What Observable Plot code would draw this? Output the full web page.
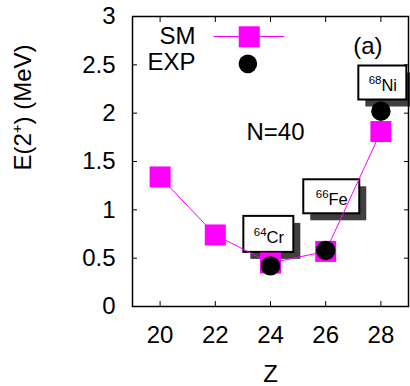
<!DOCTYPE html>
<html><head><meta charset="utf-8">
<script src="https://cdn.jsdelivr.net/npm/d3@7"></script>
<script src="https://cdn.jsdelivr.net/npm/@observablehq/plot@0.6"></script>
<style>html,body{margin:0;padding:0;background:#fff}svg{display:block}</style>
</head><body><div id="chart"></div>
<script>
// ---- data ----
const smZ = [20, 22, 24, 26, 28];
const smE = [1.34, 0.74, 0.45, 0.57, 1.81];
const expZ = [24, 26, 28];
const expE = [0.42, 0.58, 2.02];
const xTicks = [20, 22, 24, 26, 28];
const yTicks = [0, 0.5, 1, 1.5, 2, 2.5, 3];
const nuclideMass = ["64", "66", "68"];
const nuclideSym = ["Cr", "Fe", "Ni"];
const labelZ = [23.94, 26.22, 28.07];
const labelE = [0.746, 1.135, 2.312];
const seriesNames = ["SM", "EXP"];

// ---- layout ----
const W = 410, H = 386, ml = 132, mr = 2, mt = 16, mb = 80;
const xDom = [19, 29], yDom = [0, 3];
const kx = (W - ml - mr) / (xDom[1] - xDom[0]);
const ky = (H - mt - mb) / (yDom[1] - yDom[0]);
const boxW = [50, 56, 48], boxH = [36, 34, 34];
const font = "'Liberation Sans', Arial, Helvetica, sans-serif";
const MAG = "#ff00ff";

const sm = smZ.map((z, i) => ({Z: z, E: smE[i]}));
const exp = expZ.map((z, i) => ({Z: z, E: expE[i]}));
const labels = nuclideSym.map((s, i) => ({
  text: `^{${nuclideMass[i]}}${s}`, Z: labelZ[i], E: labelE[i],
  hw: boxW[i] / 2 / kx, hh: boxH[i] / 2 / ky
}));
const legLine = [{Z: 21.95, E: 2.793}, {Z: 24.48, E: 2.793}];
const legText = [{t: seriesNames[0], Z: 21.28, E: 2.795}, {t: seriesNames[1], Z: 21.28, E: 2.527}];

const boxRect = {x1: d => d.Z - d.hw, x2: d => d.Z + d.hw, y1: d => d.E - d.hh, y2: d => d.E + d.hh};

const plot = Plot.plot({
  width: W, height: H,
  marginLeft: ml, marginRight: mr, marginTop: mt, marginBottom: mb,
  style: {fontFamily: font, background: "#fff", color: "#000", overflow: "visible"},
  x: {domain: xDom}, y: {domain: yDom},
  marks: [
    Plot.rect(labels, {...boxRect, fill: "#404040", dx: 7, dy: 7}),
    Plot.rect(labels, {...boxRect, fill: "white", stroke: "black", strokeWidth: 2}),
    Plot.text(labels, {x: "Z", y: "E", text: "text", fontSize: 16.5, dy: 3, fill: "black"}),
    Plot.line(sm, {x: "Z", y: "E", stroke: MAG, strokeWidth: 1}),
    Plot.dot(sm, {x: "Z", y: "E", symbol: "square", r: 11.85, fill: MAG}),
    Plot.dot(exp, {x: "Z", y: "E", r: 9.7, fill: "black"}),
    // legend
    Plot.line(legLine, {x: "Z", y: "E", stroke: MAG, strokeWidth: 1}),
    Plot.dot([{Z: 23.23, E: 2.79}], {x: "Z", y: "E", symbol: "square", r: 11.85, fill: MAG}),
    Plot.dot([{Z: 23.18, E: 2.51}], {x: "Z", y: "E", r: 9.3, fill: "black"}),
    Plot.text(legText, {x: "Z", y: "E", text: "t", textAnchor: "end", fontSize: 24, fill: "black"}),
    Plot.text(["(a)"], {x: () => 27.53, y: () => 2.69, text: d => d, fontSize: 24, fill: "black"}),
    Plot.text(["N=40"], {x: () => 24.18, y: () => 1.80, text: d => d, fontSize: 24, fill: "black"}),
    // frame and ticks
    Plot.frame({stroke: "black", strokeWidth: 1.5}),
    Plot.axisX(xTicks, {anchor: "bottom", tickSize: -5, fill: "none", label: null}),
    Plot.axisX(xTicks, {anchor: "top", tickSize: -5, fill: "none", label: null}),
    Plot.axisY(yTicks, {anchor: "left", tickSize: -5, fill: "none", label: null}),
    Plot.axisY(yTicks, {anchor: "right", tickSize: -5, fill: "none", label: null}),
    Plot.axisX(xTicks, {anchor: "bottom", tickSize: 0, tickPadding: 19, fontSize: 24, label: null, tickFormat: d => String(d)}),
    Plot.axisY(yTicks, {anchor: "left", tickSize: 0, tickPadding: 17, fontSize: 24, label: null, tickFormat: d => String(d)}),
    Plot.text(["Z"], {frameAnchor: "bottom", dy: 75, text: d => d, fontSize: 24, fill: "black"}),
    Plot.text(["E(2^{+}) (MeV)"], {frameAnchor: "left", dx: -109, dy: 9, rotate: -90, text: d => d, fontSize: 24, fill: "black"})
  ]
});

document.getElementById("chart").appendChild(plot);

// superscript handling
const NS = "http://www.w3.org/2000/svg";
function supify(t, supSize, shift) {
  const s = t.textContent;
  t.textContent = "";
  const re = /\^\{([^}]*)\}/g;
  let last = 0, m, raised = false;
  const add = (str, sup) => {
    if (!str) return;
    const ts = document.createElementNS(NS, "tspan");
    ts.textContent = str;
    if (sup) { ts.setAttribute("font-size", supSize); ts.setAttribute("dy", -shift); raised = true; }
    else if (raised) { ts.setAttribute("dy", shift); raised = false; }
    t.appendChild(ts);
  };
  while ((m = re.exec(s))) { add(s.slice(last, m.index), false); add(m[1], true); last = re.lastIndex; }
  add(s.slice(last), false);
}
plot.querySelectorAll("text").forEach(t => {
  const s = t.textContent;
  if (!s.includes("^{")) return;
  if (s.startsWith("^{")) supify(t, 11.5, 7);
  else supify(t, 15, 9);
});
</script>
</body></html>
